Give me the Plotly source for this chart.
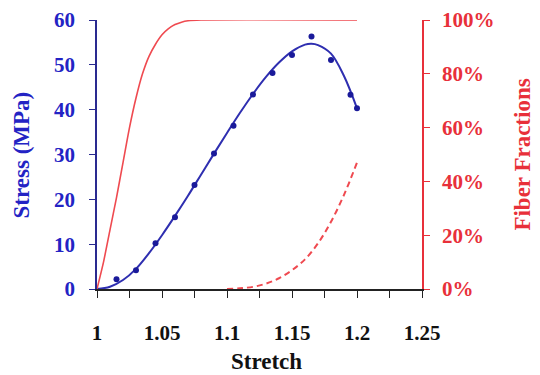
import plotly.graph_objects as go

# Measured stress data points
stretch_pts = [1.015, 1.03, 1.045, 1.06, 1.075, 1.09, 1.105, 1.12, 1.135, 1.15, 1.165, 1.18, 1.195, 1.2]
stress_pts = [2.2, 4.2, 10.2, 16.0, 23.2, 30.2, 36.4, 43.4, 48.2, 52.2, 56.3, 51.1, 43.3, 40.3]

# Fitted stress curve
stretch_fit = [1.0, 1.01, 1.02, 1.03, 1.04, 1.05, 1.06, 1.07, 1.08, 1.09, 1.10, 1.11, 1.12,
               1.13, 1.14, 1.15, 1.16, 1.165, 1.17, 1.18, 1.19, 1.2]
stress_fit = [0, 0.5, 2.0, 4.5, 8.0, 12.0, 16.3, 20.8, 25.5, 30.2, 34.8, 39.3, 43.5,
              47.3, 50.5, 53.0, 54.5, 54.7, 54.4, 52.5, 47.5, 40.3]

# Fiber fraction curves (fraction of 1)
stretch_frac1 = [1.0, 1.005, 1.01, 1.015, 1.02, 1.025, 1.03, 1.035, 1.04, 1.045, 1.05,
                 1.055, 1.06, 1.065, 1.07, 1.08, 1.2]
frac1 = [0, 0.10, 0.22, 0.34, 0.47, 0.60, 0.71, 0.80, 0.865, 0.91, 0.945,
         0.968, 0.983, 0.992, 0.997, 1.0, 1.0]

stretch_frac2 = [1.1, 1.11, 1.12, 1.13, 1.14, 1.15, 1.16, 1.17, 1.18, 1.19, 1.2]
frac2 = [0, 0.003, 0.008, 0.02, 0.04, 0.07, 0.11, 0.17, 0.25, 0.35, 0.47]

x_ticks = [1, 1.05, 1.1, 1.15, 1.2, 1.25]
x_ticktext = ["1", "1.05", "1.1", "1.15", "1.2", "1.25"]
y_ticks = [0, 10, 20, 30, 40, 50, 60]
y2_ticks = [0, 0.2, 0.4, 0.6, 0.8, 1.0]
y2_ticktext = ["0%", "20%", "40%", "60%", "80%", "100%"]

BLUE = "#2323c4"
NAVY = "#1a1a9a"
RED = "#e8303a"
LRED = "#ef4a50"
FONT = "Liberation Serif"

fig = go.Figure()
fig.add_trace(go.Scatter(x=stretch_frac1, y=frac1, yaxis="y2", mode="lines",
                         line=dict(color=LRED, width=1.6, shape="spline", smoothing=0.6),
                         showlegend=False))
fig.add_trace(go.Scatter(x=stretch_frac2, y=frac2, yaxis="y2", mode="lines",
                         line=dict(color=LRED, width=2, dash="6px,4px", shape="spline"),
                         showlegend=False))
fig.add_trace(go.Scatter(x=stretch_fit, y=stress_fit, mode="lines",
                         line=dict(color="#2e2eb0", width=2, shape="spline"),
                         showlegend=False))
fig.add_trace(go.Scatter(x=stretch_pts, y=stress_pts, mode="markers",
                         marker=dict(color=NAVY, size=6),
                         showlegend=False))

tickfont = dict(family=FONT, size=21, weight="bold")

fig.update_layout(
    width=540, height=375,
    margin=dict(l=97, r=118, t=20, b=86),
    paper_bgcolor="white", plot_bgcolor="white",
    xaxis=dict(range=[1, 1.25], tickvals=x_ticks, ticktext=x_ticktext, automargin=False,
               showgrid=False, zeroline=False, showline=True, linecolor="#222222", linewidth=1.5,
               ticks="outside", ticklen=7, tickcolor="#222222", ticklabelstandoff=17,
               minor=dict(dtick=0.025, tick0=1, ticks="outside", ticklen=7, tickcolor="#222222"),
               tickfont=dict(color="#111111", **tickfont)),
    yaxis=dict(range=[0, 60], tickvals=y_ticks, automargin=False,
               showgrid=False, zeroline=False, showline=True, linecolor="#2a2a90", linewidth=1.5,
               ticks="outside", ticklen=6, tickcolor="#2a2a90", ticklabelstandoff=10,
               tickfont=dict(color=BLUE, **tickfont)),
    yaxis2=dict(range=[0, 1], overlaying="y", side="right", tickvals=y2_ticks, ticktext=y2_ticktext,
                automargin=False,
                showgrid=False, zeroline=False, showline=True, linecolor=RED, linewidth=1.5,
                ticks="outside", ticklen=6, tickcolor=RED, ticklabelstandoff=8,
                tickfont=dict(color=RED, **tickfont)),
    annotations=[
        dict(text="Stress (MPa)", xref="paper", yref="paper", x=-0.231, y=0.5,
             textangle=-90, showarrow=False, xanchor="center", yanchor="middle",
             font=dict(family=FONT, size=23, weight="bold", color=BLUE)),
        dict(text="Fiber Fractions", xref="paper", yref="paper", x=1.308, y=0.5,
             textangle=-90, showarrow=False, xanchor="center", yanchor="middle",
             font=dict(family=FONT, size=23, weight="bold", color=RED)),
        dict(text="Stretch", xref="paper", yref="paper", x=0.52, y=-0.271,
             showarrow=False, xanchor="center", yanchor="middle",
             font=dict(family=FONT, size=23, weight="bold", color="#111111")),
    ],
)

fig.write_html("out.html", config={"displayModeBar": False},
               post_script="document.body.style.margin='0';document.body.style.padding='0';")
